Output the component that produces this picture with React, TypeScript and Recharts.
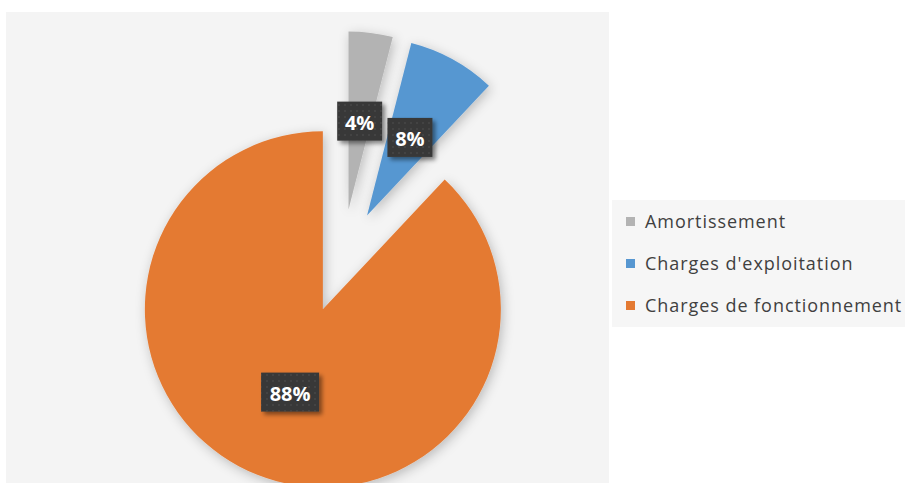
import { PieChart, Pie, Cell, Legend } from 'recharts';

const categories = ['Amortissement', "Charges d'exploitation", 'Charges de fonctionnement'];
const values = [4, 8, 88];
const colors = ['#b3b3b3', '#5797d1', '#e47a33'];

const W = 905;
const H = 483;
// true centre of the pie before the slices are pulled out
const CX = 342;
const CY = 261;
const RADIUS = 178;
const EXPLODE = 52;
const RAD = Math.PI / 180;

const data = categories.map((name, i) => ({ name, value: values[i] }));
const total = values.reduce((a, b) => a + b, 0);

// mid angle of each slice (recharts degrees, starting at 12 o'clock, clockwise)
const midAngles = values.map((v, i) => {
  const before = values.slice(0, i).reduce((a, b) => a + b, 0);
  return 90 - (360 * (before + v / 2)) / total;
});

const renderLabel = (focus: number) => (props: any) => {
  if (props.index !== focus) return null;
  const { cx, cy, midAngle, outerRadius, percent } = props;
  const r = outerRadius * 0.5;
  const x = cx + r * Math.cos(-midAngle * RAD);
  const y = cy + r * Math.sin(-midAngle * RAD);
  const text = `${Math.round(percent * 100)}%`;
  const w = 19 + 13 * text.length;
  return (
    <g key={`label-${focus}`}>
      <rect x={x - w / 2} y={y - 19.5} width={w} height={39} fill="#393939" filter="url(#labelShadow)" />
      <rect x={x - w / 2} y={y - 19.5} width={w} height={39} fill="url(#dots)" />
      <text
        x={x}
        y={y + 1}
        textAnchor="middle"
        dominantBaseline="central"
        fill="#ffffff"
        fontSize={20}
        fontWeight={700}
        fontFamily="'Open Sans', sans-serif"
      >
        {text}
      </text>
    </g>
  );
};

const renderLegend = () => (
  <div
    style={{
      width: 293,
      height: 127,
      background: '#f6f6f6',
      fontFamily: "'Open Sans', sans-serif",
      fontSize: 18,
      letterSpacing: '0.95px',
      color: '#404040',
      whiteSpace: 'nowrap',
    }}
  >
    {categories.map((name, i) => (
      <div key={name} style={{ display: 'flex', alignItems: 'center', height: 42 }}>
        <span style={{ width: 9, height: 9, background: colors[i], marginLeft: 14, marginRight: 10, flexShrink: 0 }} />
        <span>{name}</span>
      </div>
    ))}
  </div>
);

export default function App() {
  return (
    <div style={{ position: 'relative', width: W, height: H, background: '#ffffff', overflow: 'hidden' }}>
      <style>{'body{margin:0}'}</style>
      <svg width={0} height={0} style={{ position: 'absolute' }}>
        <defs>
          <filter id="sliceShadow" x="-30%" y="-30%" width="160%" height="160%">
            <feDropShadow dx={2} dy={3} stdDeviation={6} floodColor="#000" floodOpacity={0.24} />
          </filter>
          <filter id="labelShadow" x="-30%" y="-30%" width="160%" height="160%">
            <feDropShadow dx={3} dy={3} stdDeviation={2} floodColor="#000" floodOpacity={0.45} />
          </filter>
          <pattern id="dots" width={6} height={6} patternUnits="userSpaceOnUse">
            <circle cx={3} cy={3} r={0.7} fill="#555555" />
          </pattern>
        </defs>
      </svg>
      <div style={{ position: 'absolute', left: 6, top: 12, width: 603, height: 471, background: '#f4f4f4' }} />
      <div style={{ position: 'absolute', left: 0, top: 0 }}>
        <PieChart width={W} height={H} margin={{ top: 0, right: 0, bottom: 0, left: 0 }}>
          {values.map((_, k) => (
            <Pie
              key={k}
              data={data}
              dataKey="value"
              nameKey="name"
              cx={CX + EXPLODE * Math.cos(midAngles[k] * RAD)}
              cy={CY - EXPLODE * Math.sin(midAngles[k] * RAD)}
              outerRadius={RADIUS}
              startAngle={90}
              endAngle={-270}
              stroke="none"
              labelLine={false}
              label={renderLabel(k)}
              legendType={k === 0 ? 'square' : 'none'}
              isAnimationActive={false}
            >
              {data.map((d, i) => (
                <Cell
                  key={d.name}
                  fill={i === k ? colors[i] : 'transparent'}
                  filter={i === k ? 'url(#sliceShadow)' : undefined}
                />
              ))}
            </Pie>
          ))}
          <Legend
            layout="vertical"
            align="right"
            verticalAlign="middle"
            content={renderLegend}
            wrapperStyle={{ left: 612, top: 200, width: 293, height: 127 }}
          />
        </PieChart>
      </div>
    </div>
  );
}
